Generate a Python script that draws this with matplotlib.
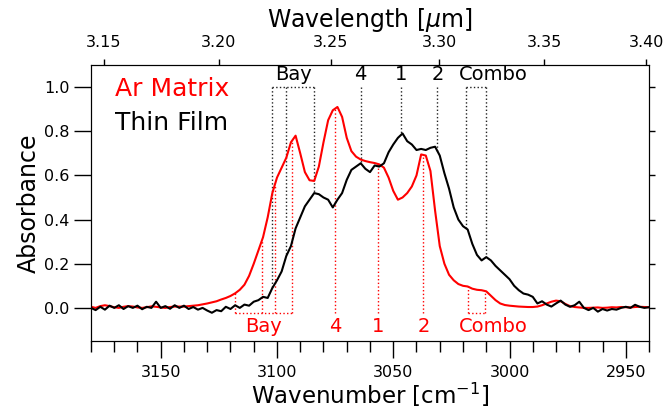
import numpy as np
import matplotlib
matplotlib.use("Agg")
import matplotlib.pyplot as plt

# wavenumber grid of both spectra [cm^-1]
wavenumber = np.arange(3180, 2939, -2)

# Ar matrix spectrum (red)
ar_matrix = [
    0.005, 0.000, 0.008, 0.012, 0.008, 0.003, 0.000, 0.005, 0.008, 0.006,   # 3180-3162
    0.002, 0.000, 0.003, 0.007, 0.005, 0.002, 0.000, 0.004, 0.006, 0.006,   # 3160-3142
    0.006, 0.008, 0.010, 0.012, 0.016, 0.020, 0.025, 0.030, 0.038, 0.045,   # 3140-3122
    0.054, 0.066, 0.082, 0.105, 0.145, 0.200, 0.260, 0.320, 0.410, 0.520,   # 3120-3102
    0.590, 0.635, 0.680, 0.750, 0.780, 0.700, 0.615, 0.578, 0.575, 0.640,   # 3100-3082
    0.750, 0.850, 0.895, 0.910, 0.865, 0.770, 0.710, 0.685, 0.672, 0.665,   # 3080-3062
    0.660, 0.656, 0.650, 0.635, 0.590, 0.530, 0.490, 0.500, 0.520, 0.550,   # 3060-3042
    0.600, 0.695, 0.690, 0.620, 0.440, 0.280, 0.200, 0.150, 0.125, 0.108,   # 3040-3022
    0.100, 0.097, 0.087, 0.082, 0.080, 0.075, 0.055, 0.035, 0.020, 0.013,   # 3020-3002
    0.010, 0.008, 0.006, 0.005, 0.004, 0.004, 0.006, 0.012, 0.020, 0.028,   # 3000-2982
    0.033, 0.030, 0.018, 0.008, 0.004, 0.002, 0.000, 0.000, 0.001, 0.002,   # 2980-2962
    0.000, 0.001, 0.003, 0.002, 0.004, 0.003, 0.002, 0.004, 0.005, 0.004,   # 2960-2942
    0.003,                                                                   # 2940
]

# thin film spectrum (black)
thin_film = [
    0.000, -0.010, 0.005, -0.008, 0.010, 0.000, 0.012, -0.005, 0.008, 0.000,
    0.010, -0.006, 0.005, 0.000, 0.028, 0.000, 0.008, -0.004, 0.012, 0.000,
    0.010, -0.005, 0.004, -0.008, 0.000, -0.012, -0.022, -0.010, -0.015, 0.005,
    -0.005, 0.012, 0.000, 0.015, 0.010, 0.028, 0.035, 0.050, 0.045, 0.090,
    0.125, 0.165, 0.235, 0.280, 0.360, 0.410, 0.460, 0.490, 0.520, 0.515,
    0.500, 0.490, 0.455, 0.490, 0.520, 0.580, 0.625, 0.640, 0.655, 0.630,
    0.615, 0.645, 0.640, 0.655, 0.705, 0.740, 0.770, 0.790, 0.755, 0.740,
    0.715, 0.720, 0.715, 0.725, 0.730, 0.690, 0.610, 0.540, 0.455, 0.400,
    0.370, 0.355, 0.290, 0.240, 0.215, 0.230, 0.215, 0.190, 0.170, 0.150,
    0.130, 0.100, 0.080, 0.065, 0.060, 0.050, 0.020, 0.030, 0.015, 0.006,
    0.020, 0.033, 0.015, 0.005, 0.012, 0.028, 0.000, -0.010, 0.000, -0.017,
    -0.005, -0.012, -0.005, -0.008, 0.000, 0.005, 0.000, 0.014, 0.005, 0.000,
    0.003,
]

# band assignments [cm^-1]
film_bands = {"Bay": [3102, 3096, 3084], "4": [3064], "1": [3046.5],
              "2": [3031], "Combo": [3018.5, 3010]}
matrix_bands = {"Bay": [3118, 3106.5, 3101, 3093.5], "4": [3075], "1": [3056.5],
                "2": [3037], "Combo": [3018, 3010.5]}
combo_label_pos = 3007

wl_ticks = [3.15, 3.20, 3.25, 3.30, 3.35, 3.40]

fig = plt.figure(figsize=(6.66, 4.12), dpi=100)
ax = fig.add_axes([0.1366, 0.1723, 0.8379, 0.6699])

ax.plot(wavenumber, ar_matrix, color="red", lw=1.5, zorder=3)
ax.plot(wavenumber, thin_film, color="black", lw=1.5, zorder=3)

top_y, bot_y = 1.0, -0.022
ls = dict(ls=":", lw=1.0, zorder=2)


def mark_bands(bands, spec, y0, col, tcol, ty, va):
    for name, pos in bands.items():
        yv = np.interp(pos, wavenumber[::-1], np.asarray(spec)[::-1])
        for p, v in zip(pos, yv):
            ax.plot([p, p], [y0, v], color=col, **ls)
        if len(pos) > 1:
            ax.plot([pos[0], pos[-1]], [y0, y0], color=col, **ls)
        cx = combo_label_pos if name == "Combo" else np.mean([pos[0], pos[-1]])
        ax.text(cx, ty, name, color=tcol, fontsize=14, ha="center", va=va)


mark_bands(film_bands, thin_film, top_y, "#222222", "black", 1.015, "bottom")
mark_bands(matrix_bands, ar_matrix, bot_y, "red", "red", -0.04, "top")

ax.text(0.043, 0.913, "Ar Matrix", color="red", fontsize=18,
        transform=ax.transAxes, va="center")
ax.text(0.043, 0.79, "Thin Film", color="black", fontsize=18,
        transform=ax.transAxes, va="center")

ax.set_xlim(3180, 2940)
ax.set_ylim(-0.15, 1.1)
ax.set_xticks([3150, 3100, 3050, 3000, 2950])
ax.set_xticks(np.arange(3180, 2939, -10), minor=True)
ax.set_yticks([0.0, 0.2, 0.4, 0.6, 0.8, 1.0])
ax.set_xlabel("Wavenumber [cm$^{-1}$]", fontsize=16.5, labelpad=1)
ax.set_ylabel("Absorbance", fontsize=17, labelpad=2)
ax.tick_params(axis="both", which="major", direction="out", length=12,
               width=1, labelsize=11.5)
ax.tick_params(axis="x", which="major", pad=5)
ax.tick_params(axis="x", which="minor", direction="out", length=8, width=1)
ax.tick_params(axis="y", which="major", right=True)
for t in ax.yaxis.get_major_ticks():
    t.tick2line.set_markersize(4.5)

# wavelength scale on top
ax2 = ax.twiny()
ax2.set_xlim(ax.get_xlim())
ax2.set_xticks([1e4 / w for w in wl_ticks])
ax2.set_xticklabels(["%.2f" % w for w in wl_ticks])
ax2.tick_params(axis="x", direction="out", length=4.5, width=1, labelsize=11.5,
                pad=6)
ax2.set_xlabel("Wavelength [$\\mu$m]", fontsize=17, labelpad=6)

fig.savefig("out.png", dpi=100)
